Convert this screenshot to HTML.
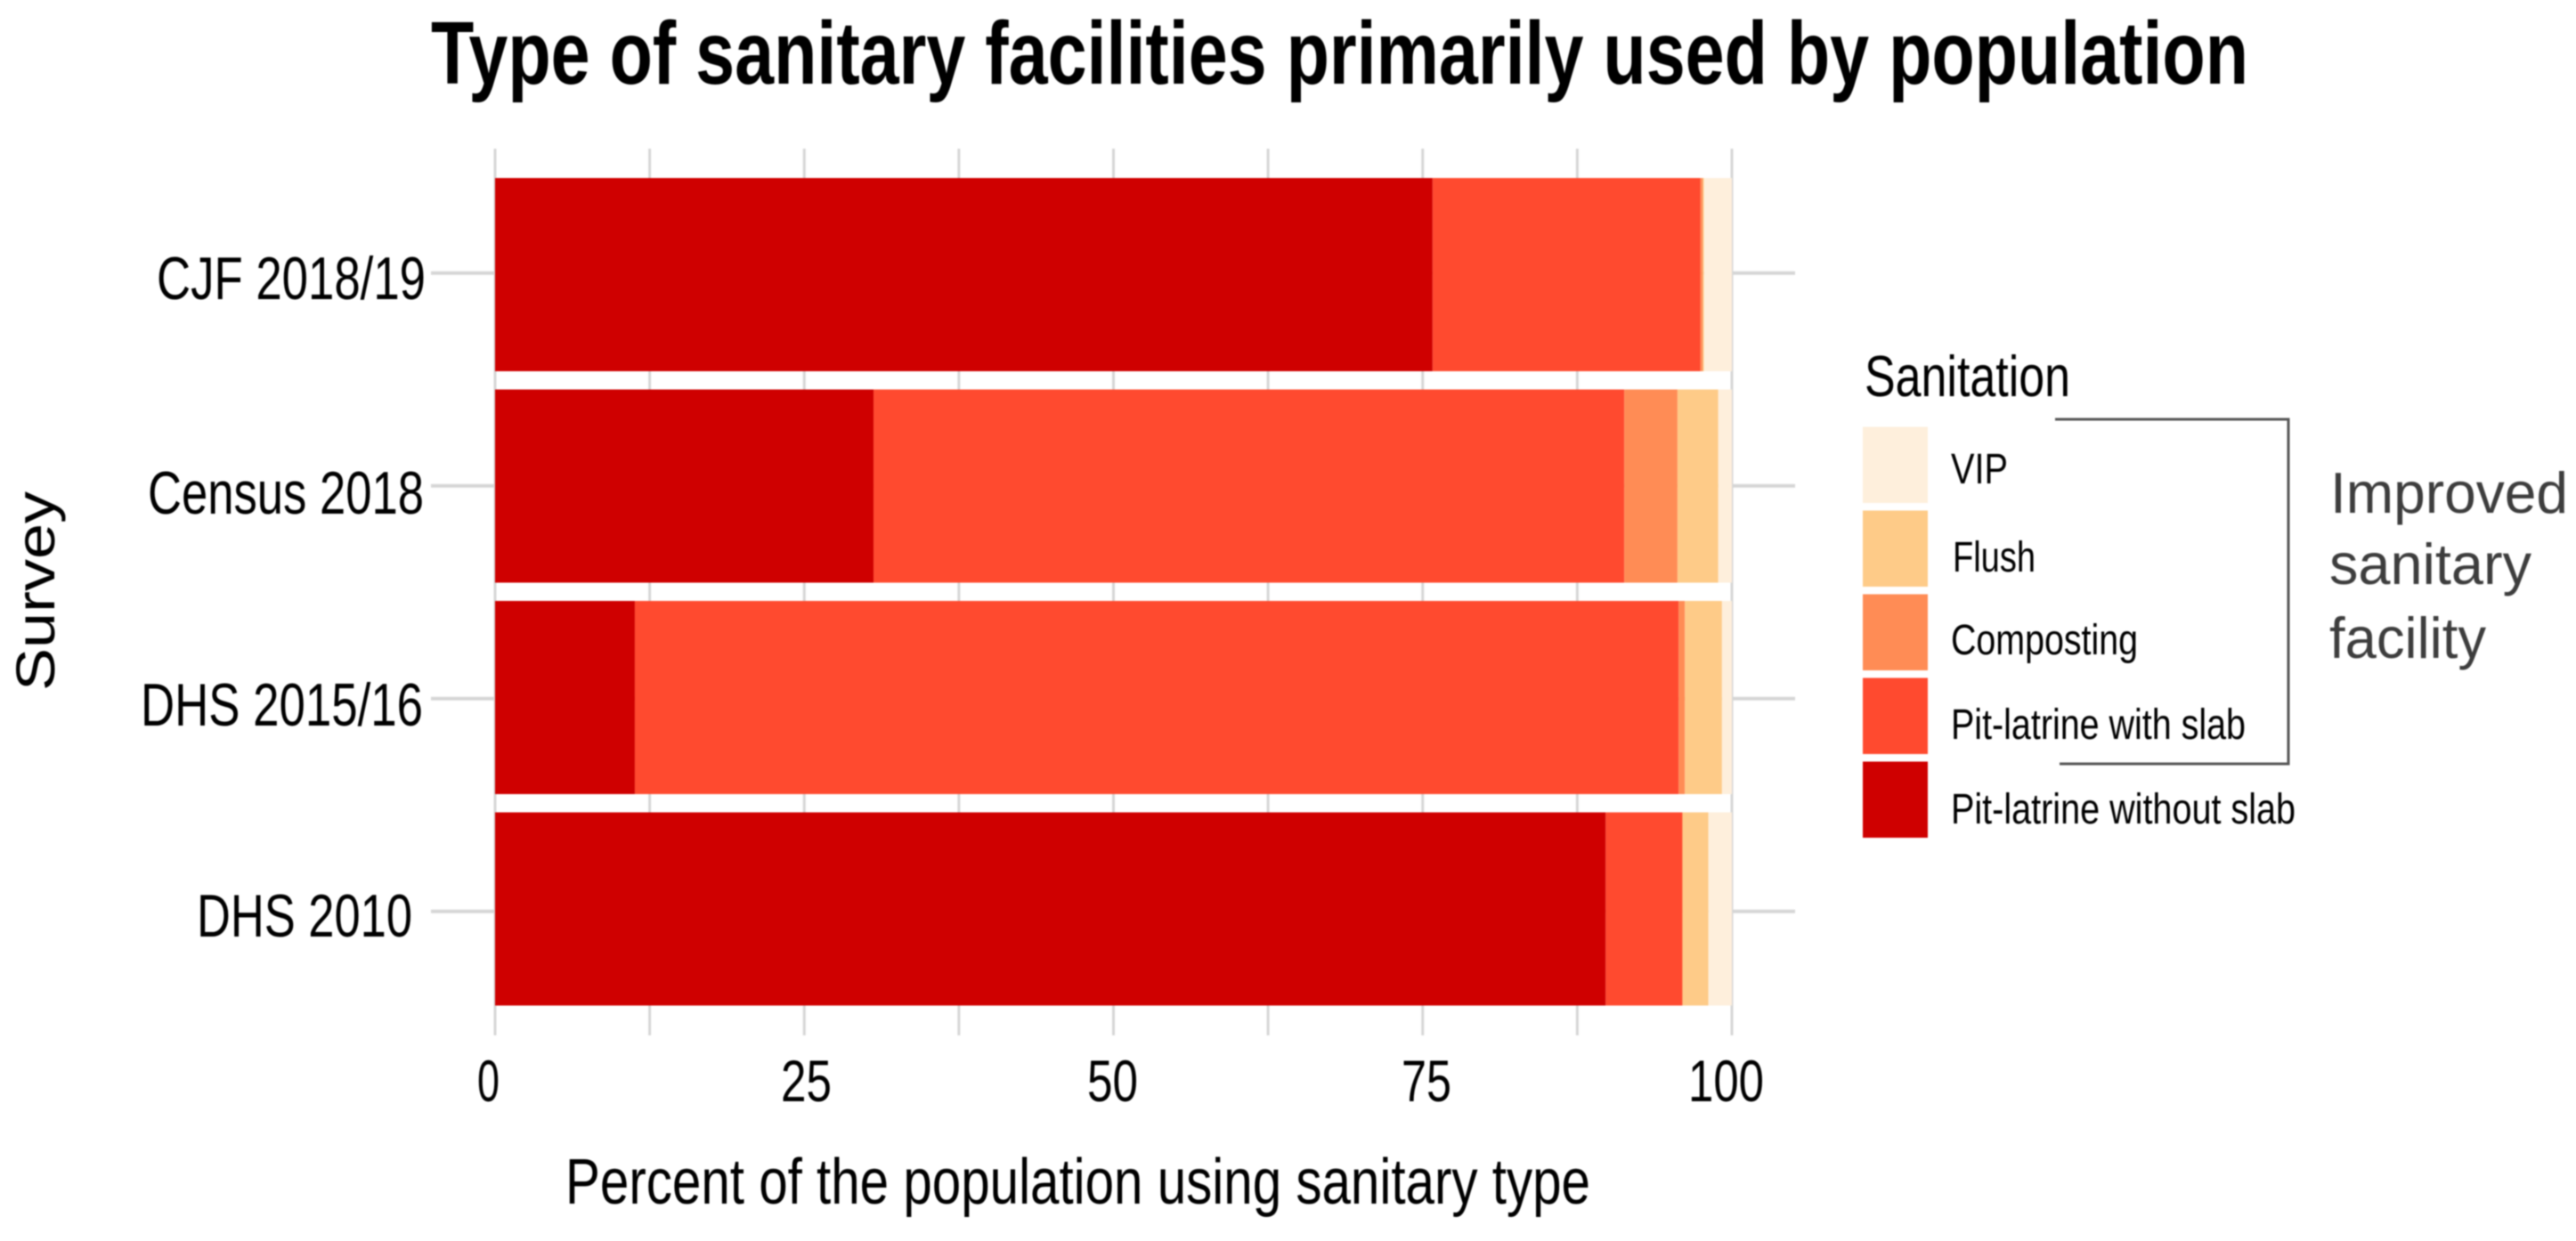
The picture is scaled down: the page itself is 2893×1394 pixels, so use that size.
<!DOCTYPE html>
<html lang="en">
<head>
<meta charset="utf-8">
<title>Type of sanitary facilities primarily used by population</title>
<style>
  html, body { margin: 0; padding: 0; background: #fff; }
  body { width: 2893px; height: 1394px; overflow: hidden; }
  svg { display: block; filter: blur(0.7px); }
  text { font-family: "Liberation Sans", Arial, sans-serif; fill: #000; }
</style>
</head>
<body>
<svg id="chart" xmlns="http://www.w3.org/2000/svg" width="2893" height="1394" viewBox="0 0 2893 1394">
  <rect x="0" y="0" width="2893" height="1394" fill="#ffffff"/>
  <text x="484" y="94" font-size="100" font-weight="700" textLength="2041" lengthAdjust="spacingAndGlyphs">Type of sanitary facilities primarily used by population</text>

  <g id="grid"></g>
  <g id="bars"></g>

  <g>
    <text x="176" y="336" font-size="68" textLength="302" lengthAdjust="spacingAndGlyphs">CJF 2018/19</text>
    <text x="166" y="577" font-size="68" textLength="310" lengthAdjust="spacingAndGlyphs">Census 2018</text>
    <text x="158" y="815" font-size="68" textLength="317" lengthAdjust="spacingAndGlyphs">DHS 2015/16</text>
    <text x="221" y="1052" font-size="68" textLength="242" lengthAdjust="spacingAndGlyphs">DHS 2010</text>
  </g>

  <g>
    <text x="536" y="1237" font-size="66" textLength="25" lengthAdjust="spacingAndGlyphs">0</text>
    <text x="877" y="1237" font-size="66" textLength="57" lengthAdjust="spacingAndGlyphs">25</text>
    <text x="1221" y="1237" font-size="66" textLength="57" lengthAdjust="spacingAndGlyphs">50</text>
    <text x="1574" y="1237" font-size="66" textLength="56" lengthAdjust="spacingAndGlyphs">75</text>
    <text x="1896" y="1237" font-size="66" textLength="85" lengthAdjust="spacingAndGlyphs">100</text>
  </g>

  <text x="635" y="1352" font-size="72" textLength="1151" lengthAdjust="spacingAndGlyphs">Percent of the population using sanitary type</text>
  <text transform="translate(61,776) rotate(-90)" x="0" y="0" font-size="61" fill="#222" textLength="224" lengthAdjust="spacingAndGlyphs">Survey</text>

  <g id="legend">
    <text x="2094" y="445" font-size="65" textLength="231" lengthAdjust="spacingAndGlyphs">Sanitation</text>
    <text x="2191" y="543" font-size="48" textLength="64" lengthAdjust="spacingAndGlyphs">VIP</text>
    <text x="2193" y="642" font-size="48" textLength="93" lengthAdjust="spacingAndGlyphs">Flush</text>
    <text x="2191" y="735" font-size="48" textLength="210" lengthAdjust="spacingAndGlyphs">Composting</text>
    <text x="2191" y="830" font-size="48" textLength="331" lengthAdjust="spacingAndGlyphs">Pit-latrine with slab</text>
    <text x="2191" y="925" font-size="48" textLength="387" lengthAdjust="spacingAndGlyphs">Pit-latrine without slab</text>
  </g>

  <path d="M2308 471 H2570 V858 H2313" fill="none" stroke="#555" stroke-width="3"/>
  <g>
    <text x="2617" y="576" font-size="65" style="fill:#3d3d3d" textLength="267" lengthAdjust="spacingAndGlyphs">Improved</text>
    <text x="2616" y="656" font-size="65" style="fill:#3d3d3d" textLength="227" lengthAdjust="spacingAndGlyphs">sanitary</text>
    <text x="2616" y="739" font-size="65" style="fill:#3d3d3d" textLength="176" lengthAdjust="spacingAndGlyphs">facility</text>
  </g>
</svg>

<script>
const categories = ["CJF 2018/19", "Census 2018", "DHS 2015/16", "DHS 2010"];
const seriesNames = ["Pit-latrine without slab", "Pit-latrine with slab", "Composting", "Flush", "VIP"];
const withoutSlab = [75.8, 30.6, 11.3, 89.8];
const withSlab = [21.65, 60.7, 84.4, 6.2];
const composting = [0.2, 4.3, 0.5, 0];
const flush = [0.1, 3.3, 3.0, 2.1];
const vip = [2.25, 1.1, 0.8, 1.9];
const gridTicks = [0, 12.5, 25, 37.5, 50, 62.5, 75, 87.5, 100];
const legendOrder = ["VIP", "Flush", "Composting", "Pit-latrine with slab", "Pit-latrine without slab"];
const seriesValues = [withoutSlab, withSlab, composting, flush, vip];
const seriesColors = ["#cf0000", "#ff4a2f", "#ff8c55", "#fecb88", "#feefdc"];

const NS = "http://www.w3.org/2000/svg";
const xScale = function (v) { return 556 + v * 13.89; };
const bandCenter = function (i) { return 308.5 + i * 237.5; };
const tickCenter = function (i) { return 306.7 + i * 239; };
const BAR_HEIGHT = 217;
const slug = function (s) { return s.toLowerCase().replace(/[^a-z0-9]+/g, "-"); };

const grid = document.getElementById("grid");
gridTicks.forEach(function (t) {
  const el = document.createElementNS(NS, "line");
  
  
  el.setAttribute("x1", xScale(t));
  el.setAttribute("x2", xScale(t));
  el.setAttribute("y1", 167);
  el.setAttribute("y2", 1163);
  el.setAttribute("stroke", "#d6d6d6");
  el.setAttribute("stroke-width", 3);
  grid.appendChild(el);
});
categories.forEach(function (c, i) {
  const el = document.createElementNS(NS, "line");
  
  
  el.setAttribute("x1", 484);
  el.setAttribute("x2", 2016);
  el.setAttribute("y1", tickCenter(i));
  el.setAttribute("y2", tickCenter(i));
  el.setAttribute("stroke", "#d6d6d6");
  el.setAttribute("stroke-width", 4);
  grid.appendChild(el);
});

const bars = document.getElementById("bars");
categories.forEach(function (c, i) {
  let cum = 0;
  seriesValues.forEach(function (values, s) {
    const v = values[i];
    if (v > 0) {
      const el = document.createElementNS(NS, "rect");
      
      
      el.setAttribute("x", xScale(cum));
      el.setAttribute("width", xScale(cum + v) - xScale(cum));
      el.setAttribute("y", bandCenter(i) - BAR_HEIGHT / 2);
      el.setAttribute("height", BAR_HEIGHT);
      el.setAttribute("fill", seriesColors[s]);
      bars.appendChild(el);
    }
    cum += v;
  });
});

const legend = document.getElementById("legend");
legendOrder.forEach(function (name, i) {
  const el = document.createElementNS(NS, "rect");
  
  
  el.setAttribute("x", 2092);
  el.setAttribute("width", 73);
  el.setAttribute("y", 479.5 + i * 94);
  el.setAttribute("height", 85.5);
  el.setAttribute("fill", seriesColors[seriesNames.indexOf(name)]);
  legend.appendChild(el);
});
</script>
</body>
</html>
